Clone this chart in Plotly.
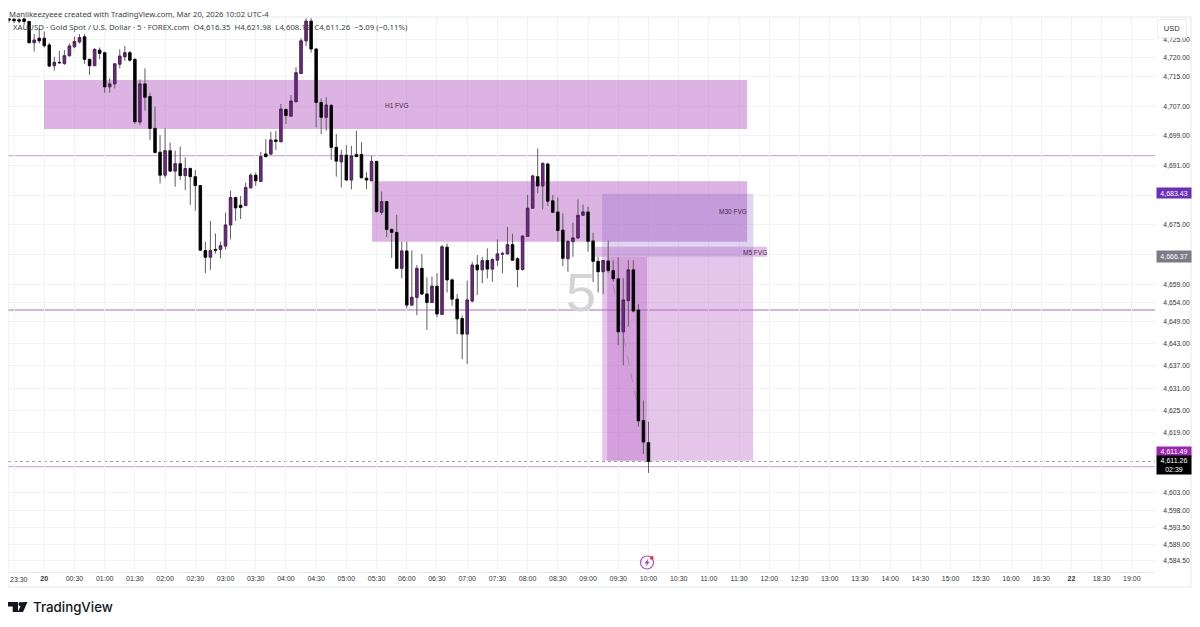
import plotly.graph_objects as go

# XAUUSD 5 min bars (bar 0 = 23:25, bar 127 = 10:00)
opens = [
    4730.5, 4730.4, 4730.3, 4730.5, 4729.8, 4724.1, 4725.3, 4725.3, 4723.5, 4717.9,
    4718.8, 4718.5, 4720.6, 4723.0, 4724.3, 4725.7, 4719.6, 4717.9, 4722.1, 4721.4,
    4712.2, 4713.0, 4718.3, 4720.3, 4721.4, 4719.6, 4702.7, 4713.0, 4709.6, 4701.0,
    4694.6, 4688.4, 4695.0, 4689.5, 4691.5, 4688.3, 4690.2, 4688.0, 4685.6, 4668.1,
    4666.3, 4668.4, 4668.4, 4669.3, 4675.0, 4682.4, 4680.3, 4680.2, 4685.0, 4688.4,
    4686.7, 4694.1, 4694.1, 4697.9, 4697.4, 4706.1, 4704.3, 4708.2, 4715.8, 4724.6,
    4729.9, 4722.4, 4708.0, 4704.0, 4707.2, 4695.9, 4692.0, 4693.8, 4687.1, 4694.0,
    4694.0, 4687.6, 4686.9, 4692.1, 4678.4, 4681.3, 4673.8, 4673.0, 4663.3, 4668.0,
    4653.4, 4655.5, 4663.3, 4656.4, 4654.1, 4658.5, 4650.9, 4669.0, 4660.2, 4655.0,
    4649.8, 4645.6, 4654.5, 4664.2, 4662.9, 4665.4, 4663.1, 4665.5, 4667.1, 4667.2,
    4669.7, 4665.9, 4663.0, 4671.9, 4679.5, 4688.0, 4685.5, 4691.4, 4681.5, 4678.5,
    4673.6, 4665.9, 4670.5, 4671.5, 4677.6, 4678.5, 4670.7, 4665.2, 4662.4, 4665.3,
    4662.7, 4660.5, 4646.2, 4654.6, 4662.9, 4652.1, 4622.3, 4616.35,
]
highs = [
    4730.7, 4730.8, 4730.7, 4730.9, 4730.0, 4726.4, 4728.0, 4727.1, 4724.1, 4720.3,
    4721.9, 4722.1, 4723.9, 4725.7, 4726.4, 4726.4, 4719.8, 4722.6, 4722.8, 4721.7,
    4714.5, 4718.5, 4722.3, 4723.2, 4721.9, 4719.9, 4714.2, 4717.2, 4710.6, 4706.9,
    4699.2, 4701.0, 4697.2, 4695.0, 4696.1, 4693.2, 4690.5, 4689.8, 4685.8, 4670.5,
    4676.1, 4672.7, 4670.5, 4678.3, 4684.2, 4682.6, 4682.8, 4686.4, 4688.9, 4689.1,
    4694.7, 4698.1, 4700.1, 4700.4, 4707.6, 4706.4, 4710.0, 4717.5, 4725.3, 4730.7,
    4730.7, 4722.6, 4709.1, 4709.4, 4707.6, 4699.5, 4695.2, 4696.5, 4696.3, 4700.4,
    4697.3, 4689.2, 4693.6, 4692.3, 4684.0, 4681.4, 4674.0, 4677.7, 4670.5, 4670.5,
    4668.1, 4664.2, 4667.2, 4660.9, 4661.1, 4662.0, 4669.6, 4670.0, 4660.6, 4656.4,
    4650.6, 4660.0, 4665.1, 4666.9, 4666.4, 4668.7, 4666.0, 4671.1, 4667.8, 4674.4,
    4672.6, 4666.3, 4672.3, 4683.1, 4688.5, 4695.6, 4691.8, 4691.8, 4683.1, 4682.4,
    4678.1, 4670.8, 4675.6, 4681.9, 4680.5, 4679.9, 4672.9, 4666.4, 4665.5, 4670.8,
    4665.5, 4666.3, 4660.6, 4665.5, 4665.5, 4653.7, 4627.7, 4621.98,
]
lows = [
    4729.5, 4729.4, 4729.3, 4728.9, 4723.9, 4721.7, 4723.9, 4722.8, 4717.5, 4716.6,
    4718.5, 4718.1, 4720.3, 4722.6, 4723.9, 4718.4, 4715.4, 4717.8, 4719.6, 4710.6,
    4710.6, 4711.8, 4717.2, 4719.2, 4719.0, 4702.2, 4701.9, 4705.8, 4697.9, 4694.3,
    4686.2, 4687.6, 4689.3, 4685.3, 4687.1, 4684.4, 4680.4, 4678.8, 4668.1, 4662.0,
    4662.9, 4667.3, 4666.0, 4668.4, 4671.1, 4676.1, 4676.6, 4680.1, 4684.9, 4685.5,
    4686.6, 4693.3, 4693.8, 4695.2, 4697.3, 4702.2, 4704.1, 4708.1, 4715.6, 4723.2,
    4721.4, 4701.3, 4699.5, 4700.4, 4692.5, 4688.0, 4685.1, 4686.9, 4684.6, 4693.3,
    4687.6, 4684.6, 4686.8, 4678.3, 4677.7, 4671.7, 4666.1, 4663.2, 4660.6, 4652.5,
    4653.3, 4650.7, 4656.1, 4646.7, 4654.0, 4650.1, 4650.8, 4656.8, 4653.2, 4645.6,
    4638.8, 4637.5, 4654.1, 4656.1, 4659.3, 4660.6, 4659.7, 4663.9, 4662.0, 4667.0,
    4665.4, 4658.2, 4662.7, 4671.8, 4679.4, 4683.5, 4679.2, 4680.1, 4678.3, 4670.5,
    4663.9, 4662.4, 4666.4, 4671.3, 4677.4, 4667.8, 4659.6, 4656.8, 4656.4, 4662.1,
    4659.7, 4642.6, 4637.2, 4647.6, 4651.4, 4620.7, 4613.3, 4608.19,
]
closes = [
    4730.2, 4730.0, 4729.9, 4729.8, 4724.1, 4724.8, 4724.6, 4723.3, 4717.8, 4718.8,
    4718.7, 4720.6, 4723.2, 4724.4, 4725.5, 4719.6, 4717.9, 4722.3, 4721.2, 4712.2,
    4713.0, 4718.4, 4720.5, 4721.4, 4719.4, 4702.8, 4713.0, 4709.4, 4701.0, 4694.5,
    4688.4, 4695.0, 4689.5, 4691.5, 4688.3, 4690.2, 4688.0, 4685.6, 4668.2, 4666.3,
    4668.1, 4668.2, 4669.4, 4675.0, 4682.4, 4679.6, 4679.7, 4685.1, 4688.4, 4686.9,
    4693.4, 4693.4, 4697.9, 4697.5, 4706.2, 4704.5, 4708.4, 4716.0, 4724.6, 4729.9,
    4722.4, 4708.0, 4704.0, 4707.3, 4695.9, 4692.2, 4693.8, 4687.1, 4693.6, 4693.4,
    4687.7, 4687.1, 4692.1, 4678.6, 4681.3, 4673.8, 4673.0, 4663.3, 4668.0, 4653.4,
    4655.5, 4663.3, 4656.4, 4654.1, 4658.5, 4651.0, 4669.1, 4660.2, 4655.0, 4649.7,
    4645.6, 4654.8, 4664.2, 4662.9, 4665.4, 4663.1, 4665.7, 4667.2, 4667.3, 4669.7,
    4665.5, 4663.0, 4672.0, 4679.5, 4688.2, 4685.5, 4691.6, 4681.4, 4678.4, 4673.5,
    4666.0, 4670.6, 4671.5, 4677.6, 4678.5, 4670.6, 4665.2, 4662.4, 4665.4, 4662.7,
    4660.5, 4646.2, 4654.8, 4662.9, 4651.8, 4622.2, 4616.5, 4611.26,
]
bars = list(range(len(opens)))

tick_bars = list(range(1, 224, 6))
# the first label (23:30) runs past the left edge, so it is placed as a note further down
tick_labels = [
    "", "<b>20</b>", "00:30", "01:00", "01:30", "02:00", "02:30", "03:00", "03:30", "04:00",
    "04:30", "05:00", "05:30", "06:00", "06:30", "07:00", "07:30", "08:00", "08:30", "09:00",
    "09:30", "10:00", "10:30", "11:00", "11:30", "12:00", "12:30", "13:00", "13:30", "14:00",
    "14:30", "15:00", "15:30", "16:00", "16:30", "<b>22</b>", "18:30", "19:00",
]
tick_prices = [4725, 4720, 4715, 4707, 4699, 4691, 4683, 4675, 4667, 4659, 4654, 4649, 4643,
               4637, 4631, 4625, 4619, 4603, 4598, 4593.5, 4589, 4584.5]
# 4683 and 4667 sit behind the coloured price tags
hidden_prices = [4683, 4667]
price_labels = ["" if p in hidden_prices else f"{p:,.2f}" for p in tick_prices]

# drawn zones: price levels and bar spans
h1_fvg = (6.95, 146.6, 4700.85, 4714.05)
m30_fvg = (72.1, 146.6, 4670.5, 4686.8)
m5_fvg = (116.0, 150.5, 4666.4, 4669.1)
position_bars = (117.8, 147.8)
strong_bars = (118.8, 126.7)
stop_price = 4683.43
entry_price = 4666.37
target_price = 4611.49
last_price = 4611.26
levels = [4693.7, 4652.1, 4609.9]

# the page puts the figure 8px in from the window corner, pixel values below are window pixels
PAGE_OFFSET = 8
FIG_W, FIG_H = 1184, 611
PLOT_L, PLOT_R, PLOT_T, PLOT_B = 8, 1155, 17, 572


def xp(px):
    return (px - PLOT_L) / (PLOT_R - PLOT_L)


def yp(py):
    return (PLOT_B - py) / (PLOT_B - PLOT_T)


def zone(x0, x1, y0, y1, color):
    return dict(type="rect", xref="x", yref="y", x0=x0, x1=x1, y0=y0, y1=y1,
                fillcolor=color, line_width=0, layer="between")


def paper_line(x0, y0, x1, y1, color="#e6e8ee"):
    return dict(type="line", xref="paper", yref="paper", x0=xp(x0), x1=xp(x1), y0=yp(y0), y1=yp(y1),
                line=dict(color=color, width=1))


fig = go.Figure()

# wicks first, bodies on top so the wicks can stay greyer than the bodies
fig.add_trace(go.Candlestick(
    x=bars, open=opens, high=highs, low=lows, close=closes,
    increasing=dict(line=dict(color="#5f5f5f", width=1), fillcolor="rgba(0,0,0,0)"),
    decreasing=dict(line=dict(color="#5f5f5f", width=1), fillcolor="rgba(0,0,0,0)"),
    whiskerwidth=0, hoverinfo="skip", showlegend=False,
))
fig.add_trace(go.Candlestick(
    x=bars, open=opens, close=closes,
    high=[max(o, c) for o, c in zip(opens, closes)],
    low=[min(o, c) for o, c in zip(opens, closes)],
    increasing=dict(line=dict(color="#3f1a4c", width=0.6), fillcolor="#702686"),
    decreasing=dict(line=dict(color="#000000", width=0.6), fillcolor="#000000"),
    whiskerwidth=0, hoverinfo="skip", showlegend=False,
))

shapes = [
    zone(*h1_fvg, "rgba(186,104,200,0.5)"),
    zone(*m30_fvg, "rgba(186,104,200,0.5)"),
    zone(position_bars[0], position_bars[1], entry_price, stop_price, "rgba(126,87,194,0.25)"),
    zone(position_bars[0], position_bars[1], target_price, entry_price, "rgba(186,104,200,0.38)"),
    zone(strong_bars[0], strong_bars[1], target_price, entry_price, "rgba(171,71,188,0.3)"),
    zone(*m5_fvg, "rgba(186,104,200,0.42)"),
    dict(type="line", xref="x", yref="y", x0=120, x1=124.7, y0=4658.8, y1=4627.0, layer="between",
         line=dict(color="#a98ab4", width=1, dash="dash")),
    dict(type="line", xref="paper", yref="y", x0=0, x1=1, y0=last_price, y1=last_price, layer="between",
         line=dict(color="#a0a0a0", width=1, dash="dot")),
]
for level, width, color in zip(levels, [1.2, 1.5, 1.2], ["#d6ace0", "#c79cd6", "#d6ace0"]):
    shapes.append(dict(type="line", xref="paper", yref="y", x0=0, x1=1, y0=level, y1=level,
                       layer="between", line=dict(color=color, width=width)))

# chart frame
shapes += [
    paper_line(8, 17, 1191, 17),
    paper_line(8, 587, 1191, 587),
    paper_line(1191, 17, 1191, 587),
    paper_line(8, 17, 8, 587),
]


# TradingView mark, bottom left
def logo_path(points):
    return "M " + " L ".join(f"{xp(x):.5f},{yp(y):.5f}" for x, y in points) + " Z"


for pts in [
    [(8, 602), (18, 602), (18, 612), (12.7, 612), (12.7, 606.6), (8, 606.6)],
    [(22.5, 602), (27.5, 602), (23, 612), (17.8, 612)],
]:
    shapes.append(dict(type="path", xref="paper", yref="paper", path=logo_path(pts),
                       fillcolor="#131722", line_width=0))
shapes.append(dict(type="circle", xref="paper", yref="paper", x0=xp(18.5), x1=xp(22.7), y0=yp(606.3), y1=yp(602),
                   fillcolor="#131722", line_width=0))

# lightning icon on the time axis
shapes += [
    dict(type="circle", xref="paper", yref="paper", x0=xp(640.5), x1=xp(653.5), y0=yp(569), y1=yp(556),
         fillcolor="#ffffff", line=dict(color="#b04cc8", width=1.2)),
    dict(type="path", xref="paper", yref="paper",
         path=logo_path([(648.5, 558.5), (644.5, 563.3), (646.8, 563.3), (645.5, 566.8),
                         (649.7, 561.7), (647.4, 561.7)]),
         fillcolor="#9c3fb5", line_width=0),
    dict(type="circle", xref="paper", yref="paper", x0=xp(650), x1=xp(653.6), y0=yp(559.7), y1=yp(556.1),
         fillcolor="#e5303f", line_width=0),
]

SANS = "Liberation Sans"
annotations = []


def note(text, x, y, size=7, color="#3d2a46", xanchor="center", family=SANS, weight="normal", **kw):
    annotations.append(dict(text=text, xref="paper", yref="paper", x=xp(x), y=yp(y), showarrow=False,
                            xanchor=xanchor, yanchor="middle",
                            font=dict(size=size, color=color, family=family, weight=weight),
                            borderpad=0, **kw))


def price_tag(text, y, bg, height=10):
    note(text, 1174, y, size=7, color="#ffffff", bgcolor=bg, width=34, height=height, align="center")


note("Manlikeezyeee created with TradingView.com, Mar 20, 2026 10:02 UTC-4", 8, 13.5, size=7.7,
     color="#3b3f4a", xanchor="left", family="Noto Sans")
note("XAUUSD · Gold Spot / U.S. Dollar · 5 · FOREX.com  O4,616.35  H4,621.98  L4,608.19  C4,611.26  −5.09 (−0.11%)",
     12, 27, size=7.8, color="#3b3f4a", xanchor="left", family="Noto Sans")
note("H1 FVG", 396, 105, size=6.5)
note("M30 FVG", 733, 212, size=6.5)
note("M5 FVG", 755, 252, size=6.5)
note("5", 581, 292, size=54, color="#d4d4d6")
note("23:30", 8.5, 579, size=7, color="#333333", xanchor="left")
note("USD", 1172, 28, size=7.5, color="#333333", bgcolor="#ffffff", bordercolor="#eceef2", borderwidth=1,
     width=28, height=17)
price_tag("4,683.43", 193, "#6b2fc0")
price_tag("4,666.37", 256, "#7b7b85", height=11)
price_tag("4,611.49", 451.5, "#9c27b0", height=9)
price_tag("4,611.26<br>02:39", 465, "#000000", height=18)
note("TradingView", 32, 607, size=13.3, color="#131722", xanchor="left", family="Inter", weight=500)

fig.update_layout(
    width=FIG_W, height=FIG_H,
    margin=dict(l=PLOT_L - PAGE_OFFSET, r=FIG_W + PAGE_OFFSET - PLOT_R, t=PLOT_T - PAGE_OFFSET,
                b=FIG_H + PAGE_OFFSET - PLOT_B),
    paper_bgcolor="#ffffff", plot_bgcolor="#ffffff", boxgap=0.3,
    showlegend=False, shapes=shapes, annotations=annotations,
    xaxis=dict(
        range=[-0.2, 227.6], tickmode="array", tickvals=tick_bars, ticktext=tick_labels,
        showgrid=True, gridcolor="#f2f3f6", gridwidth=1, zeroline=False,
        showline=True, linecolor="#e6e8ee", rangeslider=dict(visible=False),
        ticks="", tickfont=dict(size=7, color="#333333", family=SANS),
    ),
    yaxis=dict(
        range=[4581.5, 4731.02], side="right", tickmode="array", tickvals=tick_prices,
        ticktext=price_labels, showgrid=True, gridcolor="#f2f3f6", gridwidth=1, zeroline=False,
        ticks="outside", ticklen=6, tickcolor="#ffffff",
        tickfont=dict(size=6.8, color="#333333", family=SANS),
    ),
)

fig.write_html("out.html")
